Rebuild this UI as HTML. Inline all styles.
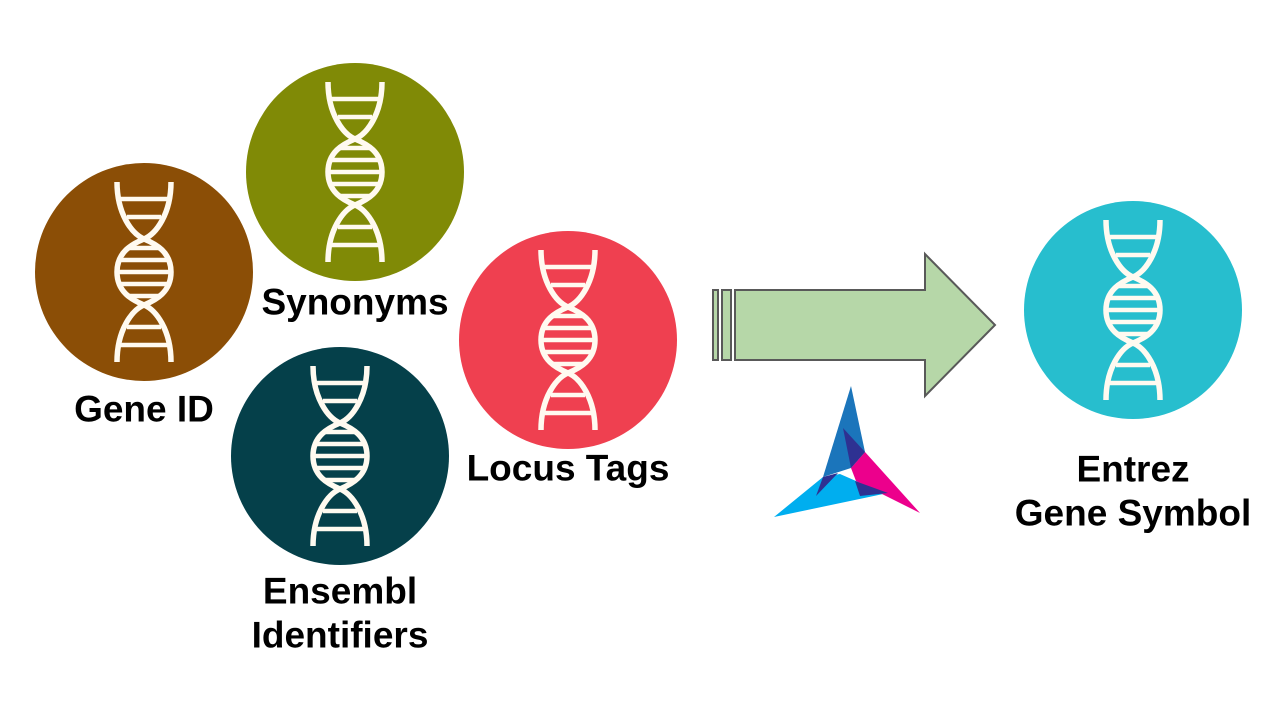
<!DOCTYPE html>
<html><head><meta charset="utf-8"><style>
html,body{margin:0;padding:0;background:#fff;width:1280px;height:720px;overflow:hidden}
text{font-family:"Liberation Sans",sans-serif;font-weight:bold;font-size:37px;fill:#000;text-anchor:middle;dominant-baseline:central}
</style></head><body>
<svg width="1280" height="720" viewBox="0 0 1280 720">
<defs>
<g id="dna" fill="none" stroke="#fffaf0" stroke-width="5.5">
<path d="M-27,-90 C-27,-58 -12,-38 0,-33 C12,-28 27,-20 27,0 C27,20 12,28 0,33 C-12,38 -27,58 -27,90"/>
<path d="M27,-90 C27,-58 12,-38 0,-33 C-12,-28 -27,-20 -27,0 C-27,20 -12,28 0,33 C12,38 27,58 27,90"/>
<path stroke-width="4.5" d="M-25,-73H25M-17,-55H17M-15,-24H15M-25,-12H25M-27,0H27M-25,12H25M-15,24H15M-17,55H17M-25,73H25"/>
</g>
</defs>
<g>
<circle cx="144" cy="272" r="109" fill="#8B4E06"/><use href="#dna" x="144" y="272"/>
<text x="144" y="409">Gene ID</text></g>
<g>
<circle cx="355" cy="172" r="109" fill="#808A06"/><use href="#dna" x="355" y="172"/>
<text x="355" y="302">Synonyms</text></g>
<g>
<circle cx="340" cy="456" r="109" fill="#05404A"/><use href="#dna" x="340" y="456"/>
<text x="340" y="591">Ensembl</text>
<text x="340" y="635">Identifiers</text></g>
<g>
<circle cx="568" cy="340" r="109" fill="#EF4050"/><use href="#dna" x="568" y="340"/>
<text x="568" y="468">Locus Tags</text></g>
<g fill="#B6D7A8" stroke="#595959" stroke-width="2">
<rect x="713" y="290" width="5" height="70"/><rect x="722" y="290" width="9" height="70"/>
<path d="M735,290 H925 V254 L995,325 L925,396 V360 H735 Z"/></g>
<g>
<polygon points="851,386 865,452 851,468 823,477" fill="#1B75BB"/>
<polygon points="823,477 774,517 888,493 856,481 840,474" fill="#00AEEF"/>
<polygon points="865,452 920,513 856,481 851,468" fill="#EC008C"/>
<polygon points="843,428 865,452 851,468" fill="#2E3192"/>
<polygon points="823,477 838,473 816,496" fill="#2E3192"/>
<polygon points="855,481 888,493 860,496" fill="#2E3192"/></g>
<g>
<circle cx="1133" cy="310" r="109" fill="#27BECE"/><use href="#dna" x="1133" y="310"/>
<text x="1133" y="469">Entrez</text>
<text x="1133" y="513">Gene Symbol</text></g>
</svg>
</body></html>
